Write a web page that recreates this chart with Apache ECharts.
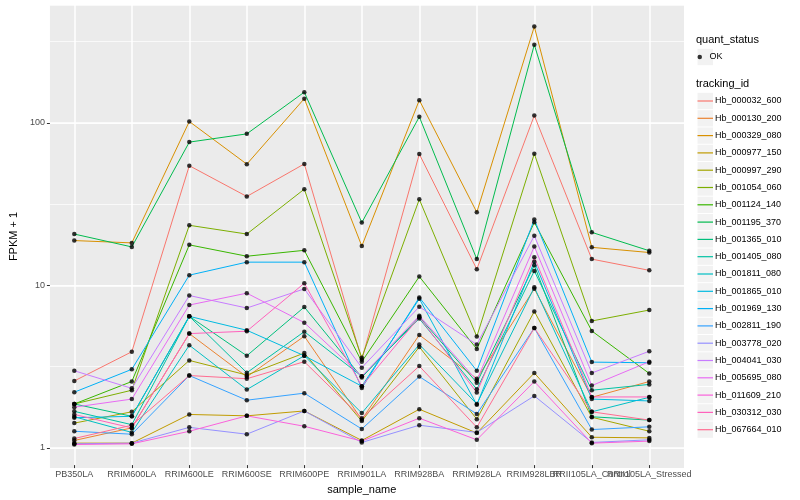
<!DOCTYPE html>
<html>
<head>
<meta charset="utf-8">
<script src="https://cdn.jsdelivr.net/npm/echarts@6/dist/echarts.min.js"></script>
<style>html,body{margin:0;padding:0;background:#fff}#c{width:800px;height:500px}</style>
</head>
<body>
<div id="c"></div>
<script>
const categories = ["PB350LA","RRIM600LA","RRIM600LE","RRIM600SE","RRIM600PE","RRIM901LA","RRIM928BA","RRIM928LA","RRIM928LBR","RRII105LA_Control","RRII105LA_Stressed"];
const yTicks = [1, 10, 100];

const Hb_000032_600 = [2.50, 3.79, 53.8, 34.7, 55.2, 3.40, 63.5, 12.3, 110, 14.2, 12.1];
const Hb_000130_200 = [1.07, 1.28, 4.91, 2.65, 4.73, 1.44, 4.82, 2.58, 9.3, 1.98, 2.48];
const Hb_000329_080 = [18.5, 17.9, 101, 55, 140, 17.1, 137, 27.7, 391, 16.8, 15.6];
const Hb_000977_150 = [1.03, 1.03, 1.55, 1.52, 1.63, 1.07, 1.67, 1.19, 2.80, 1.12, 1.11];
const Hb_000997_290 = [1.37, 1.61, 3.35, 2.72, 3.72, 1.41, 4.06, 1.45, 6.74, 1.49, 1.22];
const Hb_001054_060 = [1.80, 2.19, 23.0, 20.3, 38.5, 3.48, 33.3, 4.71, 63.8, 5.88, 6.87];
const Hb_001124_140 = [1.80, 2.48, 17.4, 14.8, 16.1, 3.29, 11.07, 3.94, 24.0, 5.1, 2.78];
const Hb_001195_370 = [20.3, 16.9, 75.3, 84.7, 153.6, 23.9, 108, 14.2, 302, 20.8, 16.0];
const Hb_001365_010 = [1.80, 1.51, 6.28, 3.58, 7.17, 2.63, 6.22, 2.44, 13.0, 1.50, 1.43];
const Hb_001405_080 = [1.62, 1.34, 6.28, 2.81, 5.05, 2.67, 6.08, 2.22, 12.0, 2.19, 2.38];
const Hb_001811_080 = [1.50, 1.20, 4.16, 2.21, 3.58, 1.58, 4.20, 1.80, 9.5, 1.61, 1.98];
const Hb_001865_010 = [1.48, 1.51, 6.28, 5.15, 3.58, 2.32, 8.07, 1.78, 13.7, 1.93, 1.88];
const Hb_001969_130 = [2.13, 2.95, 11.3, 13.6, 13.6, 2.26, 8.22, 2.89, 25.0, 3.27, 3.24];
const Hb_002811_190 = [1.22, 1.17, 2.70, 1.90, 2.10, 1.26, 2.66, 1.56, 5.32, 1.25, 1.30];
const Hb_003778_020 = [1.02, 1.03, 1.29, 1.17, 1.63, 1.04, 1.33, 1.20, 2.02, 1.04, 1.08];
const Hb_004041_030 = [2.89, 2.25, 8.45, 7.07, 9.29, 3.02, 7.20, 4.20, 19.8, 2.80, 3.82];
const Hb_005695_080 = [1.72, 1.93, 7.38, 8.74, 5.74, 2.67, 6.34, 2.52, 17.0, 2.34, 3.29];
const Hb_011609_210 = [1.01, 1.02, 1.22, 1.52, 1.31, 1.06, 1.47, 1.08, 2.48, 1.03, 1.06];
const Hb_030312_030 = [1.55, 1.28, 4.91, 5.08, 10.07, 2.32, 6.20, 2.12, 14.6, 1.99, 1.99];
const Hb_067664_010 = [1.10, 1.33, 2.70, 2.58, 3.29, 1.47, 3.09, 1.29, 5.32, 1.61, 1.43];

const seriesNames = ["Hb_000032_600","Hb_000130_200","Hb_000329_080","Hb_000977_150","Hb_000997_290","Hb_001054_060","Hb_001124_140","Hb_001195_370","Hb_001365_010","Hb_001405_080","Hb_001811_080","Hb_001865_010","Hb_001969_130","Hb_002811_190","Hb_003778_020","Hb_004041_030","Hb_005695_080","Hb_011609_210","Hb_030312_030","Hb_067664_010"];
const seriesValues = [Hb_000032_600,Hb_000130_200,Hb_000329_080,Hb_000977_150,Hb_000997_290,Hb_001054_060,Hb_001124_140,Hb_001195_370,Hb_001365_010,Hb_001405_080,Hb_001811_080,Hb_001865_010,Hb_001969_130,Hb_002811_190,Hb_003778_020,Hb_004041_030,Hb_005695_080,Hb_011609_210,Hb_030312_030,Hb_067664_010];
const palette = ["#F8766D","#EA8331","#D89000","#C09B00","#A3A500","#7CAE00","#39B600","#00BB4E","#00BF7D","#00C1A3","#00BFC4","#00BAE0","#00B0F6","#35A2FF","#9590FF","#C77CFF","#E76BF3","#FA62DB","#FF62BC","#FF6C91"];

const FONT = "Liberation Sans, Arial, Helvetica, sans-serif";
const Y_MIN = 0.753, Y_MAX = 532;
const STEP = 17.3;

const chart = echarts.init(document.getElementById('c'), null, {renderer: 'canvas'});

const lineSeries = seriesNames.map((n, i) => ({
  name: n, type: 'line', xAxisIndex: 1, yAxisIndex: 2,
  data: seriesValues[i], showSymbol: false, symbol: 'none',
  lineStyle: {width: 1, color: palette[i]}, itemStyle: {color: palette[i]},
  emphasis: {disabled: true}, z: 2
}));
const pointData = [];
seriesValues.forEach(arr => arr.forEach((v, j) => pointData.push([j, v])));

const keyRects = [];
keyRects.push({type: 'rect', shape: {x: 697.5, y: 48.35 + 0.5, width: 15.5, height: STEP - 1}, style: {fill: '#F2F2F2'}, silent: true});
for (let i = 0; i < seriesNames.length; i++) {
  keyRects.push({type: 'rect', shape: {x: 697.5, y: 92.35 + i * STEP + 0.5, width: 15.5, height: STEP - 1}, style: {fill: '#F2F2F2'}, silent: true});
}

const option = {
  animation: false,
  backgroundColor: '#ffffff',
  color: palette,
  textStyle: {fontFamily: FONT},
  grid: [
    {left: 40, right: 116, top: 5, bottom: 32, show: true, backgroundColor: '#EBEBEB', borderWidth: 0},
    {left: 74.3, right: 150.7, top: 5, bottom: 32, show: false}
  ],
  xAxis: [
    {gridIndex: 0, type: 'value', min: 0, max: 1, show: false},
    {gridIndex: 1, type: 'category', data: categories, boundaryGap: false,
     axisLine: {show: false},
     axisTick: {show: true, length: 3, lineStyle: {color: '#333333', width: 1}},
     axisLabel: {interval: 0, margin: 5, fontSize: 9, color: '#4D4D4D', fontFamily: FONT},
     splitLine: {show: true, lineStyle: {color: '#FFFFFF', width: 1.5}},
     name: 'sample_name', nameLocation: 'middle', nameGap: 15,
     nameTextStyle: {fontSize: 11, color: '#000000', fontFamily: FONT}}
  ],
  yAxis: [
    {gridIndex: 0, type: 'log', logBase: 10, min: Y_MIN, max: Y_MAX, position: 'left',
     axisLine: {show: false},
     axisTick: {show: true, length: 3, lineStyle: {color: '#333333', width: 1}, customValues: yTicks},
     axisLabel: {margin: 5, fontSize: 9, color: '#4D4D4D', fontFamily: FONT, customValues: yTicks},
     splitLine: {show: true, lineStyle: {color: '#FFFFFF', width: 1.5}},
     name: 'FPKM + 1', nameLocation: 'middle', nameGap: 20,
     nameTextStyle: {fontSize: 11, color: '#000000', fontFamily: FONT}},
    {gridIndex: 0, type: 'log', logBase: Math.sqrt(10), min: Y_MIN, max: Y_MAX, position: 'right',
     axisLine: {show: false}, axisTick: {show: false}, axisLabel: {show: false},
     splitLine: {show: true, lineStyle: {color: '#FFFFFF', width: 0.7}}},
    {gridIndex: 1, type: 'log', logBase: 10, min: Y_MIN, max: Y_MAX, show: false,
     splitLine: {show: false}}
  ],
  legend: [
    {data: ['OK'], orient: 'vertical', left: 697.5, top: 48.35, padding: 0, itemGap: 0,
     itemWidth: 15.5, itemHeight: 4.5, icon: 'circle', selectedMode: false,
     textStyle: {fontSize: 9, lineHeight: STEP, color: '#000000', fontFamily: FONT, padding: [0,0,0,-3]}},
    {data: seriesNames, orient: 'vertical', left: 697.5, top: 92.35, padding: 0, itemGap: 0,
     itemWidth: 15.5, itemHeight: 1.2, icon: 'rect',
     textStyle: {fontSize: 9, lineHeight: STEP, color: '#000000', fontFamily: FONT, padding: [0,0,0,-3]}}
  ],
  graphic: [
    {type: 'text', left: 696, top: 34.5, style: {text: 'quant_status', fontSize: 11, fill: '#000000', font: '11px ' + FONT}},
    {type: 'text', left: 696, top: 78, style: {text: 'tracking_id', fontSize: 11, fill: '#000000', font: '11px ' + FONT}},
    ...keyRects
  ],
  series: [
    ...lineSeries,
    {name: 'OK', type: 'scatter', xAxisIndex: 1, yAxisIndex: 2, data: pointData,
     symbol: 'circle', symbolSize: 4.5, itemStyle: {color: '#000000'},
     emphasis: {disabled: true}, z: 3}
  ]
};
chart.setOption(option);
</script>
</body>
</html>
